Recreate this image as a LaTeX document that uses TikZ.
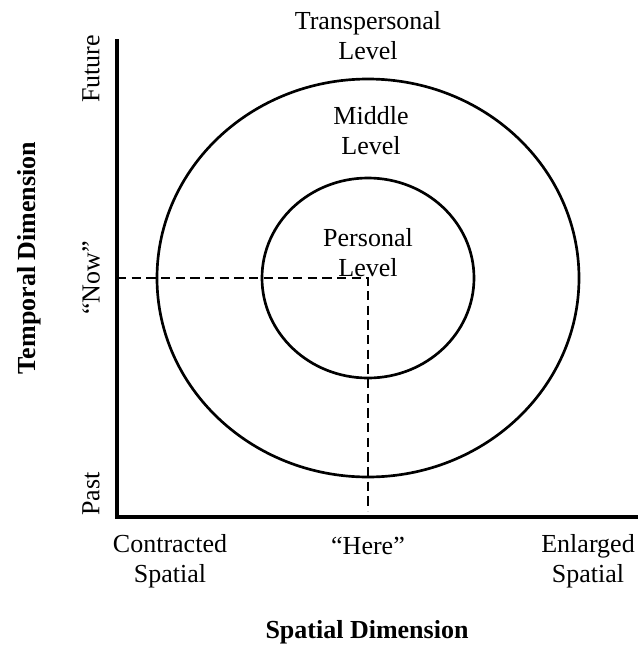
\documentclass[tikz,border=0pt]{standalone}
\usepackage{fontspec}
\setmainfont{Liberation Serif}
\usetikzlibrary{calc}

\tikzset{
  lbl/.style={align=center, font=\fontsize{19.5}{22.5}\selectfont, inner sep=0pt},
  axlbl/.style={font=\fontsize{19.5}{22.5}\selectfont\bfseries, inner sep=0pt},
  guide/.style={dash pattern={on 7pt off 4pt}, line width=1pt},
  ring/.style={line width=2pt}
}

\begin{document}
\begin{tikzpicture}[x=0.75pt,y=0.75pt,yscale=-1,xscale=1]
\useasboundingbox (0,0) rectangle (637,647);

% Axes
\coordinate (top) at (117,41);
\coordinate (orig) at (117,517);
\coordinate (right) at (637,517);
\coordinate (ctr) at (368,278);
\draw [line width=2.6pt, line cap=rect] (top) -- (orig) -- (right);

% Ellipses
\draw [ring] (ctr) ellipse [x radius=211, y radius=199];
\draw [ring] (ctr) ellipse [x radius=106, y radius=100];

% Dashed guides
\coordinate (now) at (ctr -| orig);
\coordinate (here) at ($(ctr |- orig)+(0,-6)$);
\draw [guide] (now) -- (ctr) -- (here);

% Text Node
\node [lbl] (trans) at (368,36) {Transpersonal\\Level};
% Text Node
\node [lbl] (mid) at (371,131) {Middle\\Level};
% Text Node
\node [lbl] (pers) at (368,253) {Personal\\Level};

% Text Node
\node [lbl, rotate=90] (fut) at (91,69) {Future};
% Text Node
\node [lbl, rotate=90] (nowl) at (91,278) {``Now''};
% Text Node
\node [lbl, rotate=90] (past) at (91,494) {Past};

% Text Node
\node [lbl] (contr) at (170,561) {Contracted\\Spatial};
% Text Node
\node [lbl, anchor=north] (herel) at (368,537) {``Here''};
% Text Node
\node [lbl, anchor=east] (enl) at (635,561) {Enlarged\\Spatial};

% Text Node
\node [axlbl, rotate=90] (temp) at (29,258) {Temporal Dimension};
% Text Node
\node [axlbl] (spat) at (367,632) {Spatial Dimension};

\end{tikzpicture}
\end{document}
